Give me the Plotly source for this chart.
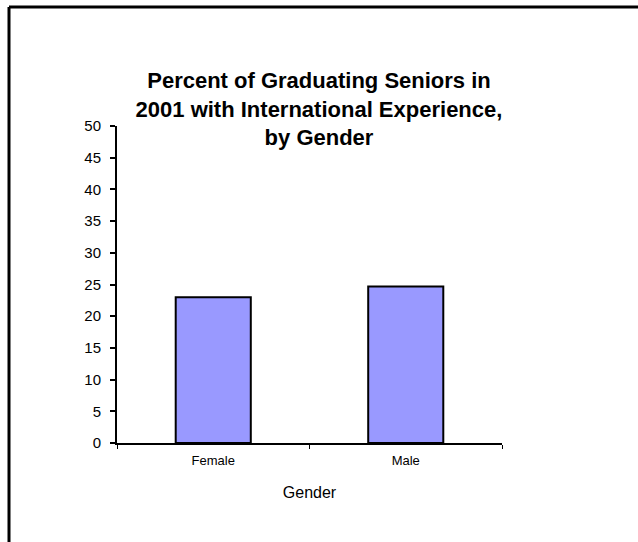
import plotly.graph_objects as go

categories = ["Female", "Male"]
values = [23.0, 24.7]
y_ticks = [0, 5, 10, 15, 20, 25, 30, 35, 40, 45, 50]

W, H = 638, 542
L, R, T, B = 117, 136, 126, 99

fig = go.Figure()
fig.add_trace(go.Bar(
    x=categories, y=values,
    marker=dict(color="#9999FF", line=dict(color="black", width=2)),
    width=0.39,
))

pw = W - L - R
ph = H - T - B
def px_to_paper_x(p):
    return (p - L) / pw
def px_to_paper_y(p):
    return (H - B - p) / ph

fig.add_shape(type="line", xref="paper", yref="paper",
              x0=px_to_paper_x(9), x1=px_to_paper_x(645),
              y0=px_to_paper_y(7), y1=px_to_paper_y(7),
              line=dict(color="black", width=3))
fig.add_shape(type="line", xref="paper", yref="paper",
              x0=px_to_paper_x(9), x1=px_to_paper_x(9),
              y0=px_to_paper_y(7), y1=px_to_paper_y(550),
              line=dict(color="black", width=3))

fig.update_layout(
    width=W, height=H,
    margin=dict(l=L, r=R, t=T, b=B, pad=0),
    paper_bgcolor="white", plot_bgcolor="white",
    font=dict(family="Liberation Sans, Arial", color="black", size=13),
    showlegend=False,
    title=dict(
        text="<b>Percent of Graduating Seniors in<br>2001 with International Experience,<br>by Gender</b>",
        x=0.5, xanchor="center", xref="container",
        y=1 - 88 / H, yanchor="top", yref="container",
        font=dict(size=22, family="Liberation Sans, Arial", color="black"),
    ),
    xaxis=dict(
        showline=True, linecolor="black", linewidth=2,
        ticks="outside", tickson="boundaries", ticklen=4, tickcolor="black", tickwidth=1,
        ticklabelstandoff=4,
        showgrid=False, zeroline=False,
        tickfont=dict(size=13),
        title=dict(text="Gender", font=dict(size=16), standoff=20),
    ),
    yaxis=dict(
        range=[0, 50], tickvals=y_ticks,
        showline=True, linecolor="black", linewidth=2,
        ticks="outside", ticklen=5, tickcolor="black", tickwidth=2,
        ticklabelstandoff=6,
        showgrid=False, zeroline=False,
        tickfont=dict(size=15),
    ),
    bargap=0.61,
)

fig.write_html("out.html", config={"displayModeBar": False},
               post_script="document.body.style.margin='0';")
